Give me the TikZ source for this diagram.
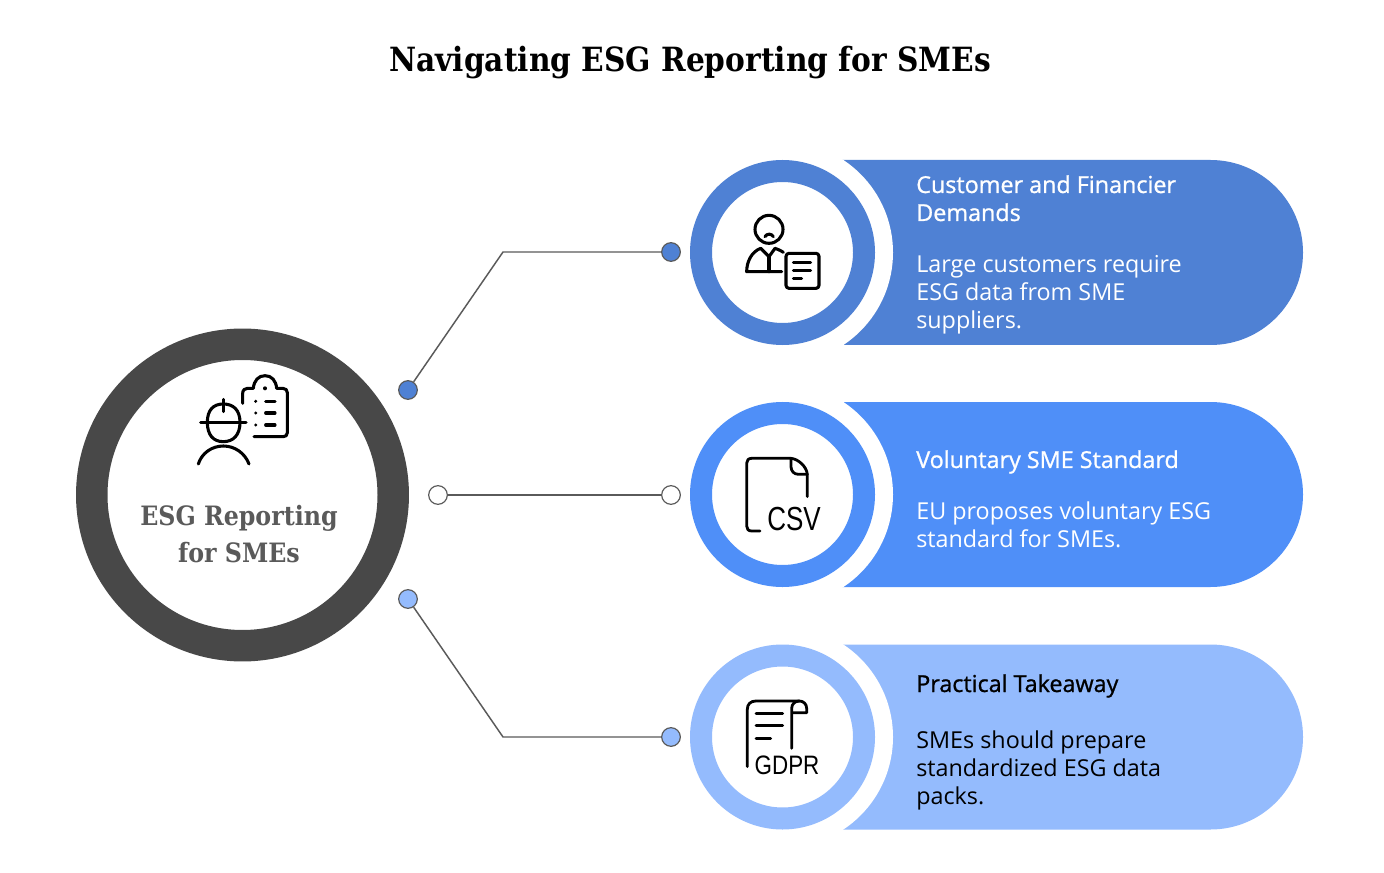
\documentclass[tikz,border=0pt]{standalone}
\usepackage{fontspec}
\setmainfont{Open Sans}
\newfontfamily\headfont[FakeBold=1.0]{Open Sans}
\newfontfamily\slabfont[FakeStretch=0.89]{DejaVu Serif}
\newfontfamily\iconfont{Liberation Sans}
\definecolor{cdark}{HTML}{484848}
\definecolor{cone}{HTML}{4F81D4}
\definecolor{ctwo}{HTML}{4F8FF8}
\definecolor{cthree}{HTML}{94BBFD}
\definecolor{cline}{HTML}{5A5A5A}
\tikzset{
  hubring/.style={circle,draw=cdark,line width=23.6pt,fill=white,inner sep=0pt,minimum size=226.1pt},
  ringnode/.style={circle,line width=16.5pt,fill=white,inner sep=0pt,minimum size=122.25pt},
  cutnode/.style={circle,fill=white,inner sep=0pt,minimum size=166.5pt},
  dotnode/.style={circle,draw=cline,line width=0.9pt,inner sep=0pt,minimum size=14pt},
  connect/.style={draw=cline,line width=1.1pt},
  iconline/.style={line width=2.3pt,line cap=round,line join=round,black},
  thinicon/.style={line width=2.1pt,line cap=round,line join=round,black},
  bodytext/.style={anchor=north west,inner sep=0pt,align=left,font=\fontsize{17.5}{21}\selectfont},
  headtext/.style={anchor=north west,inner sep=0pt,align=left,font=\headfont\fontsize{17.5}{21}\selectfont},
}
\newcommand{\pillshape}[2]{%
  \fill[#1] (842,#2-92.5) -- (1210.5,#2-92.5) arc[start angle=90,end angle=-90,radius=69.375pt] -- (842,#2+92.5) -- cycle;
}
\begin{document}
\begin{tikzpicture}[x=0.75pt,y=-0.75pt]
\useasboundingbox (0,0) rectangle (1384,873);
\fill[white] (0,0) rectangle (1384,873);

\node[anchor=base,inner sep=0pt,font=\slabfont\bfseries\fontsize{25}{30}\selectfont] (title) at (690,72) {Navigating ESG Reporting for SMEs};

% pills
\pillshape{cone}{252.5}
\pillshape{ctwo}{494.5}
\pillshape{cthree}{737}
\node[cutnode] (cut1) at (782,252.5) {};
\node[cutnode] (cut2) at (782,494.5) {};
\node[cutnode] (cut3) at (782,737) {};
\node[ringnode,draw=cone] (ring1) at (782.5,252.5) {};
\node[ringnode,draw=ctwo] (ring2) at (782.5,494.5) {};
\node[ringnode,draw=cthree] (ring3) at (782.5,737) {};

% hub
\node[hubring] (hub) at (242.5,495) {};
\node[anchor=base,inner sep=0pt,align=center,text=cdark!90,font=\slabfont\bfseries\fontsize{20}{27.7}\selectfont] (hublabel) at (239,562) {ESG Reporting\\for SMEs};

% dots
\node[dotnode,fill=cone] (a1) at (408,390) {};
\node[dotnode,fill=white] (a2) at (438,495) {};
\node[dotnode,fill=cthree] (a3) at (408,599) {};
\node[dotnode,fill=cone] (b1) at (671,252) {};
\node[dotnode,fill=white] (b2) at (671,495) {};
\node[dotnode,fill=cthree] (b3) at (671,737) {};
\coordinate (k1) at (503,252);
\coordinate (k3) at (503,737);
\draw[connect] (a1) -- (k1) -- (b1);
\draw[connect] (a2) -- (b2);
\draw[connect] (a3) -- (k3) -- (b3);

% texts
\node[headtext,text=white] (h1) at (916,175) {Customer and Financier\\Demands};
\node[bodytext,text=white] (t1) at (916,255) {Large customers require\\ESG data from SME\\suppliers.};
\node[headtext,text=white] (h2) at (916,450) {Voluntary SME Standard};
\node[bodytext,text=white] (t2) at (916,502) {EU proposes voluntary ESG\\standard for SMEs.};
\node[headtext,text=black] (h3) at (916,674) {Practical Takeaway};
\node[bodytext,text=black] (t3) at (916,730) {SMEs should prepare\\standardized ESG data\\packs.};

% icon: worker and clipboard
\begin{scope}[shift={(170,360)},x=0.25pt,y=-0.25pt,iconline]
  \draw (160,118) -- (160,155);
  \draw (92,187) -- (228,187);
  \draw (112,187) .. controls (112,150) and (130,132) .. (160,132) .. controls (190,132) and (210,150) .. (210,187)
        .. controls (210,225) and (190,245) .. (160,245) .. controls (130,245) and (112,225) .. (112,187);
  \draw (85,312) .. controls (95,280) and (125,258) .. (160,258) .. controls (195,258) and (225,280) .. (237,312);
  \draw (218,130) -- (218,100) .. controls (218,90) and (225,85) .. (232,85) -- (250,85)
        .. controls (252,62) and (265,47) .. (285,47) .. controls (305,47) and (318,62) .. (320,85)
        -- (338,85) .. controls (347,85) and (352,90) .. (352,98) -- (352,218) .. controls (352,226) and (347,230) .. (340,230) -- (252,230);
  \fill (285,85) circle[radius=6];
  \fill (257,124) circle[radius=5];
  \fill (257,159) circle[radius=5];
  \fill (257,195) circle[radius=5];
  \draw (287,124) -- (315,124);
  \draw (287,159) -- (315,159);
  \draw (287,195) -- (315,195);
\end{scope}

% icon: customer and document
\begin{scope}[shift={(720,200)},x=0.25pt,y=-0.25pt,iconline]
  \draw (147,88) circle[radius=42];
  \draw (135,110) .. controls (140,100) and (155,100) .. (160,110);
  \draw (190,157) .. controls (180,150) and (170,147) .. (165,145) -- (147,170) -- (122,145)
        .. controls (95,155) and (80,185) .. (80,215) -- (185,215);
  \draw (147,170) -- (147,215);
  \draw[rounded corners=2.2pt] (198,160) rectangle (297,265);
  \draw (220,188) -- (272,188);
  \draw (220,211) -- (272,211);
  \draw (220,235) -- (245,235);
\end{scope}

% icon: csv file
\begin{scope}[shift={(720,445)},x=0.25pt,y=-0.25pt,thinicon]
  \draw (262,155) -- (262,88) .. controls (260,65) and (235,42) .. (213,40) -- (95,40)
        .. controls (85,40) and (80,46) .. (80,55) -- (80,243) .. controls (80,252) and (85,258) .. (95,258) -- (120,258);
  \draw (213,42) -- (213,65) .. controls (213,78) and (222,88) .. (235,88) -- (262,88);
\end{scope}
\node[font=\iconfont\fontsize{25}{25}\selectfont,anchor=base,inner sep=0pt,xscale=0.78] (csvtext) at (794,530) {CSV};

% icon: gdpr scroll
\begin{scope}[shift={(720,690)},x=0.25pt,y=-0.25pt,thinicon]
  \draw (82,230) -- (82,58) .. controls (82,42) and (92,33) .. (108,33) -- (238,33)
        .. controls (250,33) and (260,42) .. (260,55) -- (260,68) -- (218,68);
  \draw (215,175) -- (215,55) .. controls (215,42) and (225,33) .. (238,33);
  \draw (108,70) -- (188,70);
  \draw (108,107) -- (188,107);
  \draw (108,145) -- (152,145);
\end{scope}
\node[font=\iconfont\fontsize{20}{20}\selectfont,anchor=base,inner sep=0pt,xscale=0.84] (gdprtext) at (787,774) {GDPR};
\end{tikzpicture}
\end{document}
